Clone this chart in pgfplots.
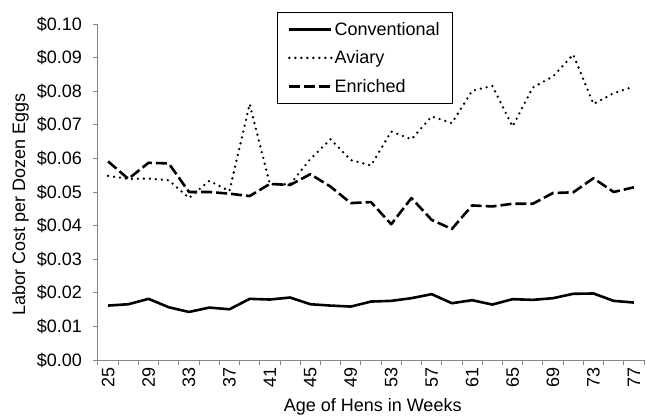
\documentclass[border=0pt]{standalone}
\usepackage{pgfplots}
\pgfplotsset{compat=1.18}
\usepackage{fontspec}
\setmainfont{Liberation Sans}
\newcommand{\chartfont}{\fontsize{18}{21}\selectfont}
\definecolor{axisgray}{RGB}{134,134,134}

\begin{document}
\begin{tikzpicture}
\begin{axis}[
    name=ax,
    scale only axis,
    width=546pt, height=336pt,
    axis x line=bottom, axis y line=left,
    axis line style={axisgray, line width=1pt, -},
    xmin=24, xmax=78,
    ymin=0, ymax=0.1,
    xtick={24,26,...,78},
    xticklabels={},
    extra x ticks={25,29,...,77},
    extra x tick style={major tick length=0pt},
    ytick={0,0.01,...,0.1},
    scaled y ticks=false,
    yticklabel={\$\pgfmathprintnumber[fixed,fixed zerofill,precision=2]{\tick}},
    tick align=outside,
    major tick length=5pt,
    tick style={axisgray, line width=1pt},
    /pgf/number format/assume math mode=true,
    xticklabel style={font=\chartfont, anchor=east, rotate=90, inner sep=0pt, inner xsep=7pt},
    yticklabel style={font=\chartfont, inner sep=0pt, xshift=-11pt},
    xlabel={Age of Hens in Weeks},
    ylabel={Labor Cost per Dozen Eggs},
    every axis x label/.style={at={(axis description cs:0.503,-0.113)}, anchor=north, font=\chartfont, inner sep=0pt},
    every axis y label/.style={at={(axis description cs:-0.1575,0.464)}, anchor=north, rotate=90, font=\chartfont, inner sep=0pt},
    legend style={at={(axis description cs:0.327,1.037)}, anchor=north west,
        draw=black, line width=1pt, font=\chartfont,
        inner xsep=11pt, inner ysep=8pt, row sep=10pt},
    legend cell align=left,
    legend image code/.code={\draw[#1] (0pt,0pt) -- (42pt,0pt);},
    clip=false,
]
\addplot[black, line width=2.6pt, line join=round] coordinates {
(25,0.0162) (27,0.0166) (29,0.0182) (31,0.0157) (33,0.0143) (35,0.0156) (37,0.0151)
(39,0.0182) (41,0.0180) (43,0.0186) (45,0.0166) (47,0.0162) (49,0.0159) (51,0.0174)
(53,0.0176) (55,0.0184) (57,0.0196) (59,0.0169) (61,0.0178) (63,0.0165) (65,0.0181)
(67,0.0179) (69,0.0184) (71,0.0197) (73,0.0198) (75,0.0176) (77,0.0171)
};
\addlegendentry{Conventional}
\addplot[black, line width=2.6pt, line cap=round, dash pattern=on 0pt off 6pt] coordinates {
(25,0.0548) (27,0.0539) (29,0.0540) (31,0.0535) (33,0.0482) (35,0.0533) (37,0.0503)
(39,0.0762) (41,0.0523) (43,0.0523) (45,0.0598) (47,0.0657) (49,0.0595) (51,0.0579)
(53,0.0680) (55,0.0657) (57,0.0725) (59,0.0705) (61,0.0801) (63,0.0816) (65,0.0695)
(67,0.0811) (69,0.0844) (71,0.0909) (73,0.0762) (75,0.0794) (77,0.0814)
};
\addlegendentry{Aviary}
\addplot[black, line width=2.6pt, line join=round, dash pattern=on 11pt off 4pt] coordinates {
(25,0.0591) (27,0.0539) (29,0.0587) (31,0.0585) (33,0.0500) (35,0.0500) (37,0.0495)
(39,0.0488) (41,0.0524) (43,0.0521) (45,0.0553) (47,0.0516) (49,0.0467) (51,0.0470)
(53,0.0404) (55,0.0482) (57,0.0417) (59,0.0390) (61,0.0460) (63,0.0457) (65,0.0465)
(67,0.0465) (69,0.0497) (71,0.0499) (73,0.0541) (75,0.0500) (77,0.0514)
};
\addlegendentry{Enriched}
\end{axis}
\pgfresetboundingbox
\path ([shift={(-98pt,-56pt)}]ax.south west) rectangle ([shift={(3pt,24pt)}]ax.north east);
\end{tikzpicture}
\end{document}
